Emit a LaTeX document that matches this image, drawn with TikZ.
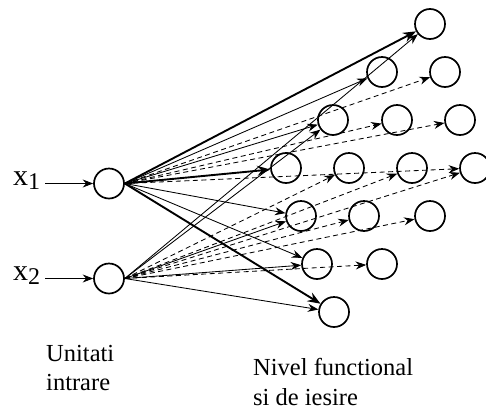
\documentclass[tikz,border=0pt]{standalone}
\usepackage{fontspec}
\setmainfont{Liberation Serif}
\usetikzlibrary{arrows.meta}
\begin{document}
\begin{tikzpicture}[x=1pt,y=-1pt,
  neuron/.style={circle,draw,line width=1.7pt,minimum size=30pt,inner sep=0pt},
  thinarr/.style={-{Stealth[length=10.5pt,width=8pt,inset=3.5pt]},line width=0.85pt},
  thickarr/.style={-{Stealth[length=13pt,width=10pt,inset=4.5pt]},line width=1.9pt},
  dasharr/.style={-{Stealth[length=10.5pt,width=8pt,inset=3.5pt]},line width=0.85pt,dash pattern=on 5pt off 3.5pt},
  lbl/.style={anchor=base west,inner sep=0pt,font=\fontsize{24.5}{29}\selectfont},
  xlbl/.style={anchor=base west,inner sep=0pt,font=\fontsize{30}{30}\selectfont}
]
\useasboundingbox (0,0) rectangle (486,410);

% input units
\node[neuron] (I1) at (109,183.5) {};
\node[neuron] (I2) at (109,278.5) {};
\coordinate (s1) at (45,183.5);
\coordinate (s2) at (45,278.5);
\node[xlbl] (x1) at (13,185) {x\raisebox{-4.3pt}{\fontsize{24}{24}\selectfont 1}};
\node[xlbl] (x2) at (13,280) {x\raisebox{-4.3pt}{\fontsize{24}{24}\selectfont 2}};
\draw[thinarr] (s1) -- (I1);
\draw[thinarr] (s2) -- (I2);

% functional / output units
\node[neuron] (A)  at (430,24) {};
\node[neuron] (B1) at (382,72) {};
\node[neuron] (B2) at (445,72) {};
\node[neuron] (C1) at (333,120) {};
\node[neuron] (C2) at (397,120) {};
\node[neuron] (C3) at (460,120) {};
\node[neuron] (D1) at (286,168) {};
\node[neuron] (D2) at (349,168) {};
\node[neuron] (D3) at (412,168) {};
\node[neuron] (D4) at (475,168) {};
\node[neuron] (E1) at (301,216) {};
\node[neuron] (E2) at (364,216) {};
\node[neuron] (E3) at (430,216) {};
\node[neuron] (F1) at (317,264) {};
\node[neuron] (F2) at (382,264) {};
\node[neuron] (G1) at (334,312) {};

% solid connections
\draw[thickarr] (I1.east) -- (A);
\draw[thinarr]  (I1.east) -- (B1);
\draw[thinarr]  (I1.east) -- (C1);
\draw[thickarr] (I1.east) -- (D1);
\draw[thinarr]  (I1.east) -- (E1);
\draw[thinarr]  (I1.east) -- (F1);
\draw[thickarr] (I1.east) -- (G1);

\draw[thinarr] (I2.east) -- (A);
\draw[thinarr] (I2.east) -- (C1);
\draw[thinarr] (I2.east) -- (E1);
\draw[thinarr] (I2.east) -- (F1);
\draw[thinarr] (I2.east) -- (G1);

% dashed connections
\draw[dasharr] (I1.east) -- (B2);
\draw[dasharr] (I1.east) -- (C2);
\draw[dasharr] (I1.east) -- (C3);
\draw[dasharr] (I1.east) -- (D4);

\draw[dasharr] (I2.east) -- (D2);
\draw[dasharr] (I2.east) -- (D3);
\draw[dasharr] (I2.east) -- (D4);
\draw[dasharr] (I2.east) -- (E2);
\draw[dasharr] (I2.east) -- (E3);
\draw[dasharr] (I2.east) -- (F2);

% captions
\node[lbl] (t1) at (46,361) {Unitati};
\node[lbl] (t2) at (46,390) {intrare};
\node[lbl] (t3) at (253,375) {Nivel functional};
\node[lbl] (t4) at (253,405) {si de iesire};
\end{tikzpicture}
\end{document}
